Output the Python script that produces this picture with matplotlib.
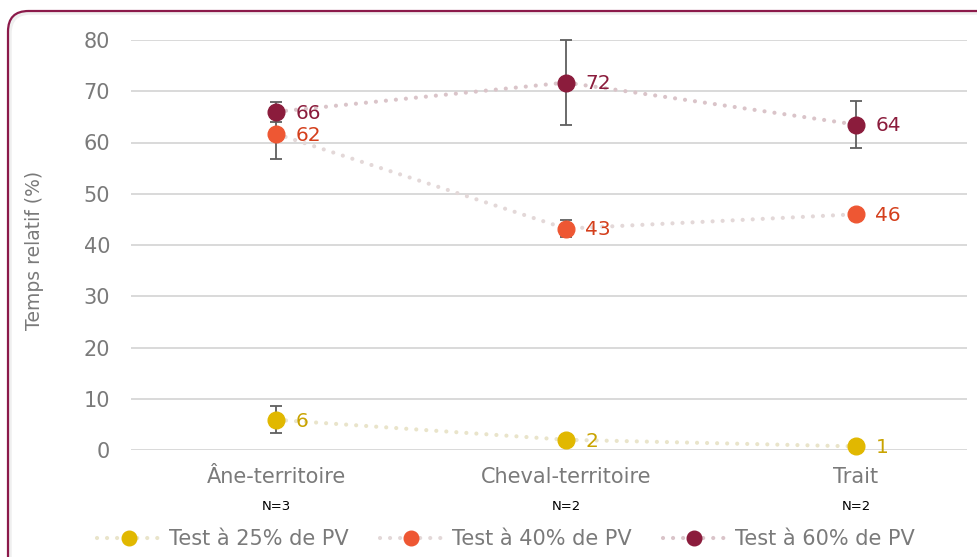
import matplotlib
matplotlib.use('Agg')
import matplotlib.pyplot as plt
from matplotlib.patches import FancyBboxPatch
from matplotlib.lines import Line2D

plt.rcParams['font.family'] = ['DejaVu Sans']

# données
categories = ['Âne-territoire', 'Cheval-territoire', 'Trait']
effectifs = ['N=3', 'N=2', 'N=2']
series = ['Test à 25% de PV', 'Test à 40% de PV', 'Test à 60% de PV']
val_25 = [5.9, 2.0, 0.7]
val_40 = [61.7, 43.2, 46.0]
val_60 = [66.0, 71.7, 63.5]
err_25 = [2.6, 0.6, 0.0]
err_40 = [5.0, 1.7, 0.0]
err_60 = [2.0, 8.3, 4.6]
labels_25 = ['6', '2', '1']
labels_40 = ['62', '43', '46']
labels_60 = ['66', '72', '64']

couleurs = ['#E1B800', '#EE5733', '#8B1C3C']
couleurs_ligne = ['#E9E4CA', '#E3D8D8', '#DAC4C9']
couleurs_texte = ['#C9A300', '#D43F1C', '#8B1C3C']

fig = plt.figure(figsize=(9.78, 5.57), dpi=100)

# ombre + cadre arrondi
ombre = FancyBboxPatch((10 / 978, -0.1), 1.2, (557 - 13) / 557 + 0.1,
                       boxstyle='round,pad=0,rounding_size=0.021',
                       mutation_aspect=978 / 557,
                       transform=fig.transFigure, facecolor='none',
                       edgecolor='#EFEFEF', linewidth=2.5, zorder=-2)
fig.patches.append(ombre)
cadre = FancyBboxPatch((8 / 978, -0.1), 1.2, (557 - 11) / 557 + 0.1,
                       boxstyle='round,pad=0,rounding_size=0.021',
                       mutation_aspect=978 / 557,
                       transform=fig.transFigure, facecolor='none',
                       edgecolor='#8B1A4A', linewidth=1.6, zorder=-1)
fig.patches.append(cadre)

ax = fig.add_axes([131 / 978, 1 - 450 / 557, (967 - 131) / 978, 410 / 557])
ax.set_facecolor('none')

x = range(len(categories))
donnees = [(val_25, err_25, labels_25), (val_40, err_40, labels_40), (val_60, err_60, labels_60)]
for i, (vals, errs, labs) in enumerate(donnees):
    ax.plot(x, vals, color=couleurs_ligne[i], lw=3, linestyle=(0, (0.01, 2.4)),
            dash_capstyle='round', zorder=2, clip_on=False)
    ax.errorbar(x, vals, yerr=errs, fmt='none', ecolor='#5F5F5F', elinewidth=1.3,
                capsize=4.5, capthick=1.3, zorder=3, clip_on=False)
    ax.plot(x, vals, 'o', color=couleurs[i], markersize=12, zorder=4 + i, clip_on=False)
    for xi, v, t in zip(x, vals, labs):
        ax.annotate(t, (xi, v), xytext=(14, -1), textcoords='offset points',
                    ha='left', va='center', fontsize=14.5, color=couleurs_texte[i], zorder=10)

ax.set_xlim(-0.5, 2.383)
ax.set_ylim(0, 80)
ax.set_yticks(range(0, 81, 10))
ax.set_xticks(list(x))
ax.set_xticklabels(categories)
ax.tick_params(axis='both', length=0, labelsize=15, labelcolor='#7A7A7A')
ax.tick_params(axis='y', pad=15)
ax.tick_params(axis='x', pad=12)
for s in ax.spines.values():
    s.set_visible(False)
ax.grid(axis='y', color='#D9D9D9', lw=1.4)
ax.set_axisbelow(True)

for xi, n in zip(x, effectifs):
    ax.annotate(n, (xi, 0), xytext=(0, -41), textcoords='offset points',
                xycoords=('data', 'axes fraction'), ha='center', va='center',
                fontsize=9.5, color='black')

fig.text(35 / 978, 1 - 250 / 557, 'Temps relatif (%)', rotation=90, ha='center',
         va='center', fontsize=13.5, color='#7A7A7A')

poignees = [Line2D([0], [0], color=couleurs_ligne[i], lw=3, linestyle=(0, (0.01, 2.4)),
                   dash_capstyle='round', marker='o', markersize=10.5,
                   markerfacecolor=couleurs[i], markeredgecolor=couleurs[i])
            for i in range(3)]
leg = fig.legend(poignees, series, loc='center', bbox_to_anchor=(506 / 978, 1 - 539 / 557),
                 ncol=3, frameon=False, fontsize=15, handlelength=3.0,
                 columnspacing=1.5, handletextpad=0.45)
for t in leg.get_texts():
    t.set_color('#7A7A7A')

fig.savefig('out.png', dpi=100)
